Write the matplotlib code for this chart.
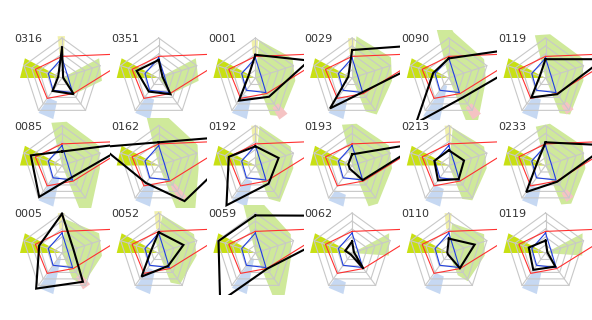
import numpy as np
import matplotlib.pyplot as plt
from matplotlib.patches import Polygon

labels = ['0316', '0351', '0001', '0029', '0090', '0119',
          '0085', '0162', '0192', '0193', '0213', '0233',
          '0005', '0052', '0059', '0062', '0110', '0119']

# spokes in order: top, upper right, lower right, lower left, upper left
black = [
    [0.76, 0.03, 0.50, 0.40, 0.10],
    [0.45, 0.10, 0.50, 0.42, 0.58],
    [0.58, 1.41, 0.58, 0.70, 0.18],
    [0.70, 2.90, 0.44, 0.94, 0.10],
    [0.49, 2.85, 0.60, 1.39, 0.41],
    [0.47, 1.52, 0.50, 0.60, 0.15],
    [0.35, 1.84, 0.38, 0.97, 0.82],
    [0.58, 2.50, 1.10, 0.54, 1.50],
    [0.48, 0.61, 0.56, 1.23, 0.70],
    [0.28, 1.85, 0.45, 0.10, 0.10],
    [0.38, 0.40, 0.42, 0.46, 0.38],
    [0.58, 1.63, 0.50, 0.82, 0.22],
    [0.98, 0.30, 0.89, 1.10, 0.60],
    [0.52, 0.65, 0.40, 0.73, 0.20],
    [0.94, 3.00, 0.49, 1.50, 0.97],
    [0.29, 0.05, 0.49, 0.05, 0.18],
    [0.36, 0.68, 0.47, 0.04, 0.04],
    [0.31, 0.05, 0.42, 0.52, 0.44],
]
red = [0.54, 2.0, 0.48, 0.63, 0.70]
blue = [0.50, 0.15, 0.45, 0.38, 0.36]

# shaded areas
green = [
    [0, 0, 1.05, 1.0, 0.5, 0],
    [0, 0, 1.05, 1.0, 0.5, 0],
    [0, 0.95, 1.05, 1.0, 1.15, 1.0],
    [0, 1.05, 1.1, 1.0, 1.1, 0.9],
    [2.5, 1.15, 1.0, 0.93, 1.3, 2.5],
    [1.1, 1.1, 1.05, 0.95, 1.1, 0.95],
    [1.1, 1.1, 1.05, 0.95, 1.3, 1.2],
    [2.2, 1.3, 1.1, 1.0, 1.6, 2.2],
    [0, 1.0, 1.0, 0.95, 1.1, 0.9],
    [1.05, 1.05, 1.05, 1.0, 1.15, 1.1],
    [0, 0.95, 1.0, 0.95, 1.05, 0.9],
    [1.0, 1.05, 1.05, 1.0, 1.15, 1.05],
    [0, 0.85, 1.05, 1.0, 0.95, 0.7],
    [0.3, 0.95, 1.0, 0.95, 0.95, 0.8],
    [1.7, 1.3, 1.0, 0.9, 1.3, 1.7],
    [0, 0, 1.05, 0.92, 0, 0],
    [0, 0.75, 1.0, 0.9, 0.85, 0.6],
    [0, 0, 1.05, 0.92, 0, 0],
]
yellow_top = [1.05, 0, 0.95, 1.0, 0, 0, 0, 0, 1.0, 0, 1.0, 0,
              1.0, 1.05, 0, 0, 1.0, 0]
lime_left = [1.05] * 18
blue_in = [0.6, 0.55, 0.5, 0.55, 0.2, 0.55, 0.3, 0.5, 0.4, 0.75, 0.6, 0.6,
           0.1, 0.45, 0.15, 0.75, 0.6, 0.5]
blue_out = [1.05, 1.05, 1.05, 1.05, 1.15, 1.05, 1.05, 1.05, 1.05, 1.05, 1.05, 1.05,
            1.05, 1.05, 1.05, 1.05, 1.05, 1.05]
pink_in = [0, 0, 0.85, 0, 0.85, 0.8, 0, 0.6, 0, 0, 0, 0.8,
           0.7, 0, 0, 0, 0, 0]
pink_out = [0, 0, 1.2, 0, 1.2, 1.05, 0, 1.05, 0, 0, 0, 1.05,
            1.05, 0, 0, 0, 0, 0]

AX_ANG = np.array([90, 18, -54, -126, -198])
GREEN_ANG = np.array([104, 84, 28, -4, -56, -68])


def xy(vals, angs):
    a = np.radians(angs)
    v = np.asarray(vals, dtype=float)
    return np.column_stack([v * np.cos(a), v * np.sin(a)])


def closed(p):
    return np.vstack([p, p[:1]])


W, H = 592, 320
fig = plt.figure(figsize=(W / 100, H / 100), dpi=100)

for i, lab in enumerate(labels):
    row, col = divmod(i, 6)
    cx = 62 + 96.7 * col
    cy = 78 + 87.5 * row
    ax = fig.add_axes([(cx - 48.35) / W, 1 - (cy + 42) / H, 96.7 / W, 90 / H])
    ax.set_xlim(-48.35 / 40, 48.35 / 40)
    ax.set_ylim(-42 / 40, 48 / 40)
    ax.axis('off')

    # filled areas
    g = np.vstack([[0, 0], xy(green[i], GREEN_ANG)])
    ax.add_patch(Polygon(g, fc='#cfe99a', ec='none', zorder=1))
    if yellow_top[i]:
        p = xy([0.6, yellow_top[i], yellow_top[i], 0.6], [96, 96, 86, 86])
        ax.add_patch(Polygon(p, fc='#f0f0aa', ec='none', zorder=1.1))
    p = np.vstack([[0, 0], xy([lime_left[i], lime_left[i]], [152, 180])])
    ax.add_patch(Polygon(p, fc='#c8e014', ec='none', zorder=1.1))
    p = xy([blue_in[i], blue_out[i], blue_out[i], blue_in[i]], [258, 258, 236, 236])
    ax.add_patch(Polygon(p, fc='#c6d8f2', ec='none', zorder=1.1))
    if pink_out[i]:
        p = xy([pink_in[i], pink_out[i], pink_out[i], pink_in[i]], [-60, -60, -48, -48])
        ax.add_patch(Polygon(p, fc='#f5c3c3', ec='none', zorder=1.2))

    # grid
    for k in range(1, 6):
        ring = closed(xy(np.full(5, k / 5), AX_ANG))
        ax.plot(ring[:, 0], ring[:, 1], color='#c8c8c8', lw=0.8, zorder=2)
    for a in np.radians(AX_ANG):
        ax.plot([0, np.cos(a)], [0, np.sin(a)], color='#c8c8c8', lw=0.8, zorder=2)

    pr = closed(xy(red, AX_ANG))
    ax.plot(pr[:, 0], pr[:, 1], color='#ff3030', lw=0.8, zorder=3)
    pb = closed(xy(blue, AX_ANG))
    ax.plot(pb[:, 0], pb[:, 1], color='#1f3fe0', lw=0.8, zorder=4)
    pk = closed(xy(black[i], AX_ANG))
    ax.plot(pk[:, 0], pk[:, 1], color='black', lw=1.5, zorder=5,
            solid_joinstyle='miter')

    ax.text(-1.19, 0.975, lab, fontsize=8, color='#333333',
            ha='left', va='center', zorder=6)

fig.savefig('out.png', dpi=100)
